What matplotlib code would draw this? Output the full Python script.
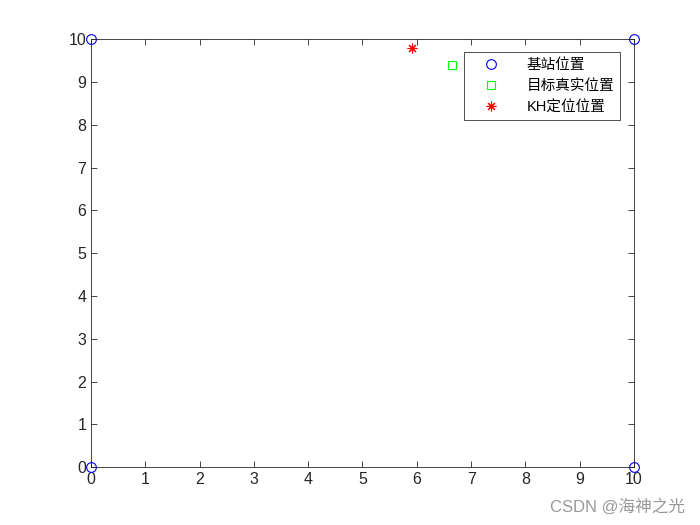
import matplotlib
matplotlib.use("Agg")
import matplotlib.pyplot as plt

plt.rcParams['font.family'] = ['Liberation Sans', 'Noto Sans CJK SC', 'DejaVu Sans']

# base stations
bs_x = [0, 10, 0, 10]
bs_y = [0, 0, 10, 10]
# true target position
tgt_x = [6.65]
tgt_y = [9.39]
# KH estimate
kh_x = [5.91]
kh_y = [9.79]

labels = ["基站位置", "目标真实位置", "KH定位位置"]
ticks = list(range(0, 11))

fig = plt.figure(figsize=(7, 5.25), dpi=100)
ax = fig.add_axes([0.13, 0.11, 0.7757, 0.8152])

ax.plot(bs_x, bs_y, "o", color="#0000ff", mfc="none", ms=7, mew=0.8,
        linestyle="none", label=labels[0], clip_on=False)
ax.plot(tgt_x, tgt_y, "s", color="#00ff00", mfc="none", ms=6, mew=0.8,
        linestyle="none", label=labels[1], clip_on=False)
ax.plot(kh_x, kh_y, marker=(8, 2, 0), color="#ff0000", ms=7, mew=0.8,
        linestyle="none", label=labels[2], clip_on=False)

ax.set_xlim(0, 10)
ax.set_ylim(0, 10)
ax.set_xticks(ticks)
ax.set_yticks(ticks)
ax.tick_params(direction="in", top=True, right=True, length=4,
               labelsize=11.5, width=0.6, colors="#262626")
for sp in ax.spines.values():
    sp.set_linewidth(0.6)
    sp.set_color("#262626")

leg = ax.legend(loc="upper right", bbox_to_anchor=(0.974, 0.970),
                fontsize=10.5, frameon=True, fancybox=False,
                edgecolor="black", borderpad=0.4, labelspacing=0.5,
                handletextpad=0.9, handlelength=3.0, borderaxespad=0)
leg.get_frame().set_linewidth(0.6)

fig.text(0.978, 0.02, "CSDN @海神之光", ha="right", va="bottom",
         fontsize=12, color="#999999")

fig.savefig("out.png", dpi=100, facecolor="white")
